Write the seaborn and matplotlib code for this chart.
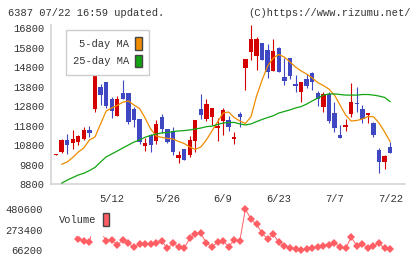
import numpy as np
import pandas as pd
import matplotlib
matplotlib.use("Agg")
import matplotlib.pyplot as plt
from matplotlib.patches import Patch
import seaborn as sns

# trading days (TSE calendar)
dates = pd.bdate_range("2025-04-23", "2025-07-22", freq="C",
                       holidays=["2025-04-29", "2025-05-05", "2025-05-06", "2025-07-21"])

open_ = [10300, 10460, 11060, 10920, 10950, 11090, 11570, 12650, 13760, 14040,
         13140, 12300, 13450, 13450, 12630, 12120, 10750, 11310, 11020, 12220,
         11600, 11520, 10150, 10600, 10290, 11000, 12630, 12120, 12250, 11690,
         12050, 12080, 11100, 12390, 14760, 15590, 15380, 16020, 15670, 14600,
         15760, 14300, 15280, 13930, 13530, 14190, 14480, 13450, 12760, 13420,
         12430, 11310, 11740, 12390, 12970, 12630, 12340, 11940, 10540, 9940,
         10710]
high = [10340, 11120, 11360, 11570, 11310, 11720, 11770, 14510, 13930, 14050,
        13250, 13300, 14130, 13450, 12760, 12120, 11140, 11360, 12070, 12400,
        11600, 11740, 10510, 10600, 11260, 12080, 13420, 13160, 12680, 12200,
        12680, 12300, 11450, 12510, 15210, 16950, 16350, 16020, 15980, 16240,
        15820, 15280, 15280, 14390, 14010, 14430, 14560, 13570, 13530, 13530,
        13020, 11830, 12120, 14000, 13790, 12850, 12430, 12000, 10660, 10290,
        10940]
low = [10300, 10380, 10340, 10580, 10800, 11040, 11200, 12510, 12870, 12700,
       12200, 12280, 13140, 11890, 11740, 10850, 10510, 10460, 10850, 11400,
       10900, 10300, 9890, 10030, 10180, 10460, 12120, 12050, 11830, 11020,
       11310, 11520, 10840, 11740, 13620, 15160, 14650, 15160, 14250, 14600,
       14560, 13880, 14170, 13530, 13020, 13710, 13620, 12820, 12510, 11940,
       11480, 11140, 11530, 12250, 12510, 11910, 11910, 11200, 9380, 9570,
       10370]
close = [10340, 11060, 10800, 11110, 11260, 11570, 11430, 14400, 13380, 12820,
         12550, 13140, 13140, 12000, 12080, 10970, 10920, 10800, 11860, 11600,
         10970, 10460, 10290, 10030, 11060, 12080, 12340, 12900, 12680, 11770,
         12600, 11740, 11200, 12250, 15210, 16240, 16240, 15160, 14560, 15620,
         14560, 14080, 14360, 13840, 14010, 13840, 14050, 13160, 13420, 12050,
         11660, 11140, 11830, 13020, 12900, 12140, 12430, 11310, 9940, 10240,
         10370]

ma5 = [np.nan, 9810, 9930, 10160, 10440, 10650, 11060, 11210, 11880, 12540,
       12700, 12830, 13000, 13060, 12850, 12670, 12180, 11620, 11260, 11190,
       11140, 11110, 10980, 10880, 10700, 10570, 10700, 11060, 11520, 11980,
       12440, 12490, 12210, 12030, 11910, 12240, 13310, 14130, 14850, 15260,
       15440, 15310, 15060, 14800, 14600, 14440, 14240, 14000, 13850, 13670,
       13360, 12850, 12340, 12030, 12060, 12130, 12260, 12250, 11930, 11470,
       10970]
ma25 = [np.nan, 8840, 9000, 9130, 9260, 9350, 9490, 9650, 9930, 10190,
        10340, 10490, 10650, 10800, 10950, 11060, 11200, 11290, 11360, 11420,
        11440, 11490, 11520, 11540, 11570, 11620, 11670, 11740, 11770, 11850,
        11930, 11950, 11960, 11880, 11830, 11880, 12000, 12110, 12210, 12300,
        12440, 12520, 12600, 12700, 12770, 12900, 13060, 13210, 13360, 13420,
        13420, 13390, 13360, 13360, 13360, 13390, 13390, 13360, 13310, 13240,
        13020]

volume = [260000, 300000, 280000, 250000, 180000, 157000, 144000, 400000, 260000, 157000,
          167000, 117000, 167000, 134000, 94000, 127000, 124000, 124000, 134000, 157000,
          83000, 134000, 100000, 83000, 185000, 228000, 235000, 134000, 100000, 144000,
          157000, 100000, 167000, 157000, 480600, 377000, 326000, 235000, 177000, 225000,
          144000, 110000, 90000, 76000, 66200, 76000, 83000, 100000, 110000, 117000,
          134000, 100000, 83000, 195000, 110000, 124000, 90000, 107000, 134000, 83000,
          76000]

price_ticks = [8800, 9800, 10800, 11800, 12800, 13800, 14800, 15800, 16800]
vol_ticks = [66200, 273400, 480600]

df = pd.DataFrame({"day": np.arange(len(dates)), "date": dates, "open": open_, "high": high,
                   "low": low, "close": close, "ma5": ma5, "ma25": ma25, "volume": volume})
# a date label every 10 sessions, counted back from the last one
label_days = [d for d in df["day"].iloc[::-10][::-1] if d > 0]
date_labels = [f"{d.month}/{d.day}" for d in df.loc[label_days, "date"]]

RED, BLUE = "#d40000", "#3f48c2"
ORANGE, GREEN, VOL = "#f08c00", "#12a412", "#ff5f64"
GRAY, TXT = "#d4d4d4", "#333333"
FS = 7.5

sns.set_style("white")
plt.rcParams["font.family"] = ["Liberation Mono", "DejaVu Sans Mono"]

fig = plt.figure(figsize=(4.2, 2.59), dpi=100)
W, H = 420, 259
ax = fig.add_axes([51 / W, 1 - 184 / H, 354 / W, 158.9 / H])
axv = fig.add_axes([51 / W, 1 - 250 / H, 354 / W, 41 / H])

# candles
up = df["close"] >= df["open"]
colors = np.where(up, RED, BLUE)
bottom = df[["open", "close"]].min(axis=1)
height = (df["close"] - df["open"]).abs().clip(lower=45)
ax.vlines(df["day"], df["low"], df["high"], colors=colors, linewidth=0.8, zorder=2)
ax.bar(df["day"], height, bottom=bottom, width=0.78, color=colors, linewidth=0, zorder=3)

sns.lineplot(data=df, x="day", y="ma5", ax=ax, color=ORANGE, linewidth=0.9, zorder=4)
sns.lineplot(data=df, x="day", y="ma25", ax=ax, color=GREEN, linewidth=0.9, zorder=4)

ax.set_xlim(-0.9, 62.66)
ax.set_ylim(8800, 16950)
ax.set_xlabel("")
ax.set_ylabel("")
ax.set_yticks(price_ticks)
ax.set_yticklabels([str(t) for t in price_ticks])
ax.set_xticks(np.linspace(-0.9, 62.66, 12))
ax.set_xticklabels([])
ax.set_xticks(label_days, minor=True)
ax.set_xticklabels(date_labels, minor=True)
ax.tick_params(axis="y", direction="inout", length=6, width=1.2, color=GRAY,
               labelsize=FS, labelcolor=TXT, pad=2)
ax.tick_params(axis="x", which="major", direction="out", length=4, width=1.2, color=GRAY)
ax.tick_params(axis="x", which="minor", length=0, labelsize=FS, labelcolor=TXT, pad=7.5)
for s in ["top", "right"]:
    ax.spines[s].set_visible(False)
for s in ["left", "bottom"]:
    ax.spines[s].set_color(GRAY)
    ax.spines[s].set_linewidth(1.2)

leg = ax.legend(handles=[Patch(facecolor=ORANGE, edgecolor="#444444", linewidth=1),
                         Patch(facecolor=GREEN, edgecolor="#444444", linewidth=1)],
                labels=["5-day MA", "25-day MA"], markerfirst=False,
                loc="upper left", bbox_to_anchor=(65.7 / W, 1 - 30 / H),
                bbox_transform=fig.transFigure, borderaxespad=0, fontsize=FS,
                handlelength=0.65, handleheight=1.5, handletextpad=0.55,
                labelspacing=0.45, borderpad=0.7, fancybox=False,
                edgecolor="#cccccc", framealpha=1)
for t in leg.get_texts():
    t.set_color(TXT)

# volume
sns.lineplot(data=df, x="day", y="volume", ax=axv, color=VOL, linewidth=0.7,
             marker="D", markersize=4.2, markeredgewidth=0, clip_on=False)
axv.set_xlim(-0.9, 62.66)
axv.set_ylim(66200, 480600)
axv.set_xlabel("")
axv.set_ylabel("")
axv.set_xticks([])
axv.set_yticks(vol_ticks)
axv.set_yticklabels([str(t) for t in vol_ticks])
axv.tick_params(axis="y", length=0, labelsize=FS, labelcolor=TXT, pad=6)
sns.despine(ax=axv, left=True, bottom=True)
axv.patch.set_alpha(0)

vleg = axv.legend(handles=[Patch(facecolor=VOL, edgecolor="#444444", linewidth=1)],
                  labels=["Volume"], markerfirst=False, loc="upper left",
                  bbox_to_anchor=(50 / W, 1 - 204 / H), bbox_transform=fig.transFigure,
                  borderaxespad=0, fontsize=FS, handlelength=0.65, handleheight=1.5,
                  handletextpad=0.55, borderpad=0.9, fancybox=False,
                  edgecolor="white", framealpha=1)
for t in vleg.get_texts():
    t.set_color(TXT)

fig.text(8 / W, 1 - 13 / H, "6387 07/22 16:59 updated.", fontsize=FS, color=TXT, va="center")
fig.text(411 / W, 1 - 13 / H, "(C)https://www.rizumu.net/", fontsize=FS, color=TXT,
         va="center", ha="right")

fig.savefig("out.png", dpi=100)
